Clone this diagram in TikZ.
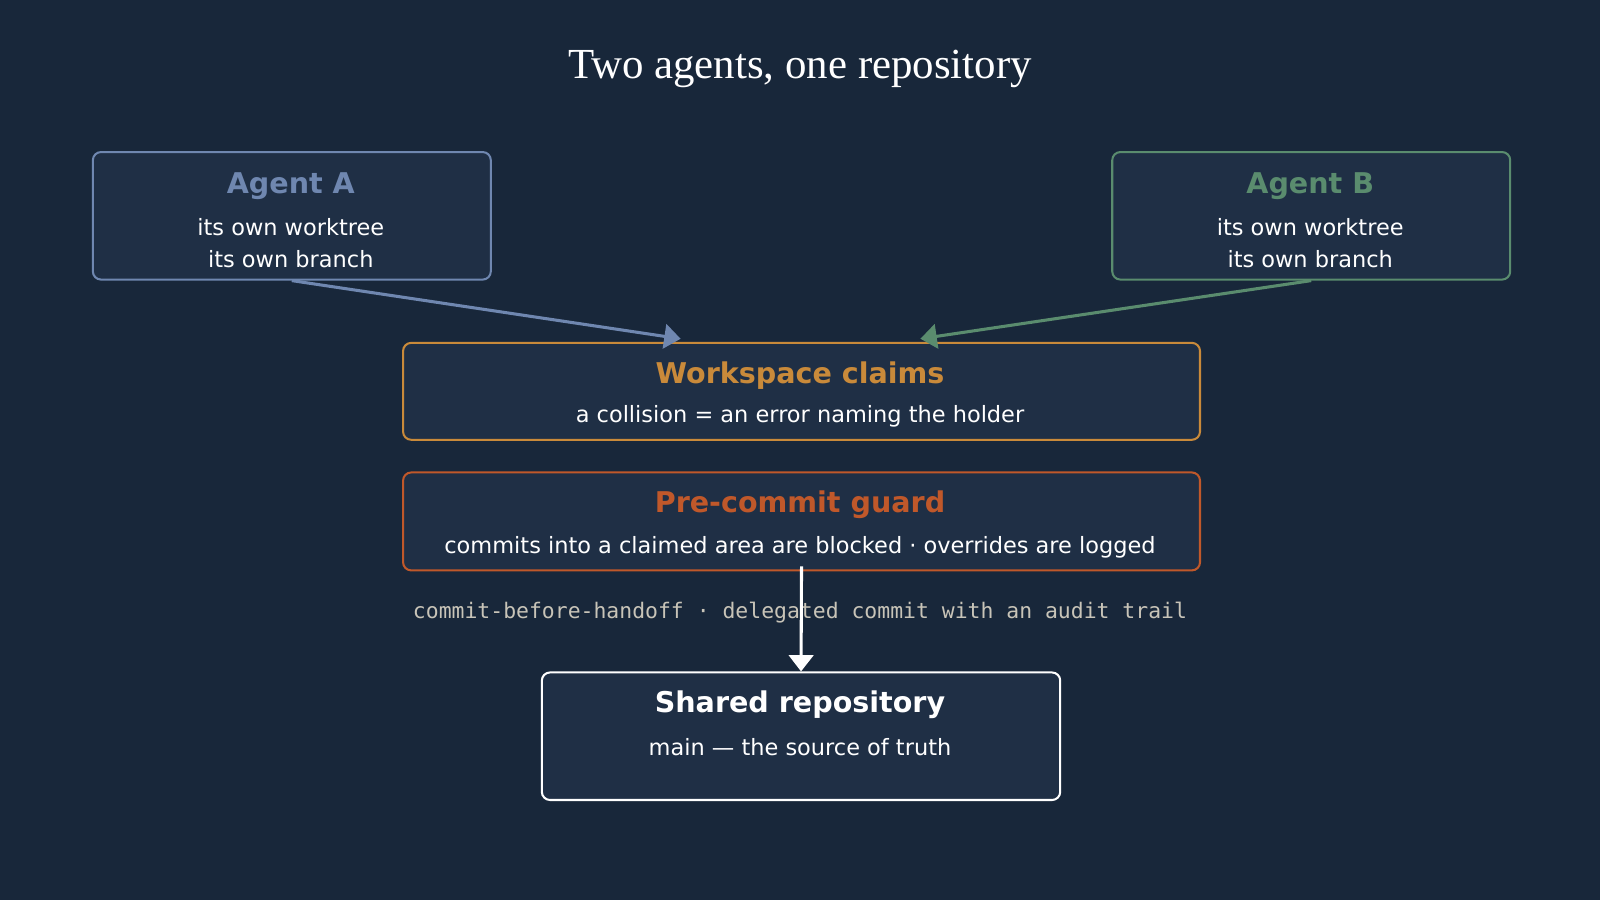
\documentclass[tikz,border=0pt]{standalone}
\usepackage{fontspec}
\setmainfont{DejaVu Sans}
\setmonofont{DejaVu Sans Mono}
\newfontfamily\titlefont{Liberation Serif}
\usetikzlibrary{arrows.meta}
\definecolor{bgc}{HTML}{18273A}
\definecolor{boxc}{HTML}{1F2F45}
\definecolor{agA}{HTML}{6F87B0}
\definecolor{agB}{HTML}{5A8C6E}
\definecolor{claimc}{HTML}{C98A3A}
\definecolor{guardc}{HTML}{C0582A}
\definecolor{monoc}{HTML}{C8C4B8}
\tikzset{
  card/.style={draw, line width=2pt, rounded corners=8pt, fill=boxc, inner sep=0pt, anchor=north west},
  head/.style={font=\fontsize{28}{32}\selectfont\bfseries},
  body/.style={font=\fontsize{22}{31}\selectfont, text=white, align=center},
  feed/.style={line width=3pt, -{Triangle[width=24pt,length=16pt]}}
}
\begin{document}
\begin{tikzpicture}[x=1pt,y=-1pt]
\fill[bgc] (0,0) rectangle (1568,882);
\useasboundingbox (0,0) rectangle (1568,882);
\node[text=white, font=\titlefont\fontsize{42}{48}\selectfont] (title) at (784,68) {Two agents, one repository};
% agents
\node[card, draw=agA, minimum width=390pt, minimum height=125pt] (agentA) at (90,148) {};
\node[head, text=agA] (agentAh) at (285,182) {Agent A};
\node[body] (agentAb) at (285,238) {its own worktree\\its own branch};
\node[card, draw=agB, minimum width=390pt, minimum height=125pt] (agentB) at (1089,148) {};
\node[head, text=agB] (agentBh) at (1284,182) {Agent B};
\node[body] (agentBb) at (1284,238) {its own worktree\\its own branch};
% layers
\node[card, draw=claimc, minimum width=781pt, minimum height=95pt] (claims) at (394,335) {};
\node[head, text=claimc] (claimsh) at (784,368) {Workspace claims};
\node[body] (claimsb) at (784,408) {a collision = an error naming the holder};
\node[card, draw=guardc, minimum width=781pt, minimum height=96pt] (guard) at (394,462) {};
\node[head, text=guardc] (guardh) at (784,495) {Pre-commit guard};
\node[body] (guardb) at (784,536) {commits into a claimed area are blocked · overrides are logged};
\node[card, draw=white, minimum width=508pt, minimum height=125pt] (repo) at (530,658) {};
\node[head, text=white] (repoh) at (784,691) {Shared repository};
\node[body] (repob) at (784,732) {main — the source of truth};
\node[text=monoc, font=\ttfamily\fontsize{21}{25}\selectfont] (note) at (784,600) {commit-before-handoff · delegated commit with an audit trail};
% connectors
\coordinate (inA) at (667,332);
\coordinate (inB) at (902,332);
\draw[feed, agA] (agentA.south) -- (inA);
\draw[feed, agB] (agentB.south) -- (inB);
\draw[feed, white] ([yshift=5pt]guard.south) -- (repo.north);
\end{tikzpicture}
\end{document}
